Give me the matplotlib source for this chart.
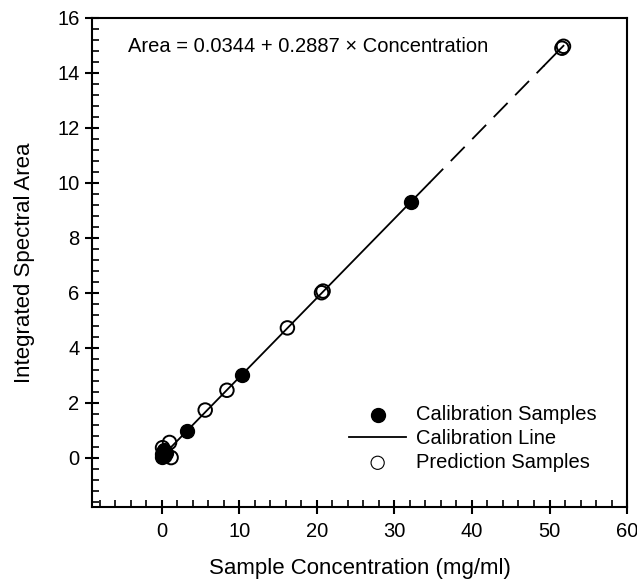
import matplotlib.pyplot as plt
import numpy as np
from matplotlib.ticker import MultipleLocator

plt.rcParams['font.family'] = ['Liberation Sans', 'DejaVu Sans']

# calibration samples (filled)
cal_conc = [0.0, 0.05, 0.1, 0.2, 0.3, 0.5, 3.2, 10.3, 32.2]
cal_area = [0.02, 0.12, 0.22, 0.08, 0.28, 0.18, 0.96, 3.02, 9.3]

# prediction samples (open)
pred_conc = [0.1, 0.4, 1.0, 1.2, 5.6, 8.4, 16.2, 20.6, 20.8, 51.6, 51.8]
pred_area = [0.36, 0.05, 0.55, 0.0, 1.73, 2.45, 4.72, 6.0, 6.06, 14.9, 14.97]

intercept = 0.0344
slope = 0.2887

fig = plt.figure(figsize=(6.37, 5.84), dpi=100)
ax = fig.add_axes([0.1444, 0.1318, 0.84, 0.8374])

# calibration line: solid over calibration range, dashed extrapolation, solid end
x1 = np.array([0.0, 34.5])
x2 = np.array([34.5, 49.3])
x3 = np.array([49.3, 51.8])
ax.plot(x1, intercept + slope * x1, color='black', lw=1.3, zorder=2)
ax.plot(x2, intercept + slope * x2, color='black', lw=1.3, dashes=(11, 6), zorder=2)
ax.plot(x3, intercept + slope * x3, color='black', lw=1.3, zorder=2)

ax.scatter(pred_conc, pred_area, s=95, facecolors='none', edgecolors='black',
           linewidths=1.4, zorder=3)
ax.scatter(cal_conc, cal_area, s=100, color='black', zorder=4)

h1 = ax.scatter([], [], s=100, color='black')
h2, = ax.plot([], [], color='black', lw=1.3)
h3 = ax.scatter([], [], s=90, facecolors='none', edgecolors='black', linewidths=0.8)
ax.legend([h1, h2, h3], ['Calibration Samples', 'Calibration Line', 'Prediction Samples'],
          loc='lower right', bbox_to_anchor=(0.958, 0.055), frameon=False,
          fontsize=14.5, handlelength=2.8, handletextpad=0.5, labelspacing=0.25,
          borderaxespad=0)

ax.text(-4.4, 14.98, 'Area = 0.0344 + 0.2887 \u00d7 Concentration', fontsize=14.5, va='center')

ax.set_xlim(-9, 60)
ax.set_ylim(-1.8, 16)
ax.xaxis.set_major_locator(MultipleLocator(10))
ax.xaxis.set_minor_locator(MultipleLocator(2))
ax.yaxis.set_major_locator(MultipleLocator(2))
ax.yaxis.set_minor_locator(MultipleLocator(0.4))
ax.tick_params(which='major', direction='inout', length=10, width=1.5, labelsize=14.5, pad=6)
ax.tick_params(axis='y', which='major', pad=4)
ax.tick_params(which='minor', direction='in', length=5, width=1.2)
ax.tick_params(top=False, right=False)
for s in ax.spines.values():
    s.set_linewidth(1.5)

ax.set_xlabel('Sample Concentration (mg/ml)', fontsize=16, labelpad=12)
ax.set_ylabel('Integrated Spectral Area', fontsize=16, labelpad=16)

plt.savefig('out.png', dpi=100)
plt.close()
